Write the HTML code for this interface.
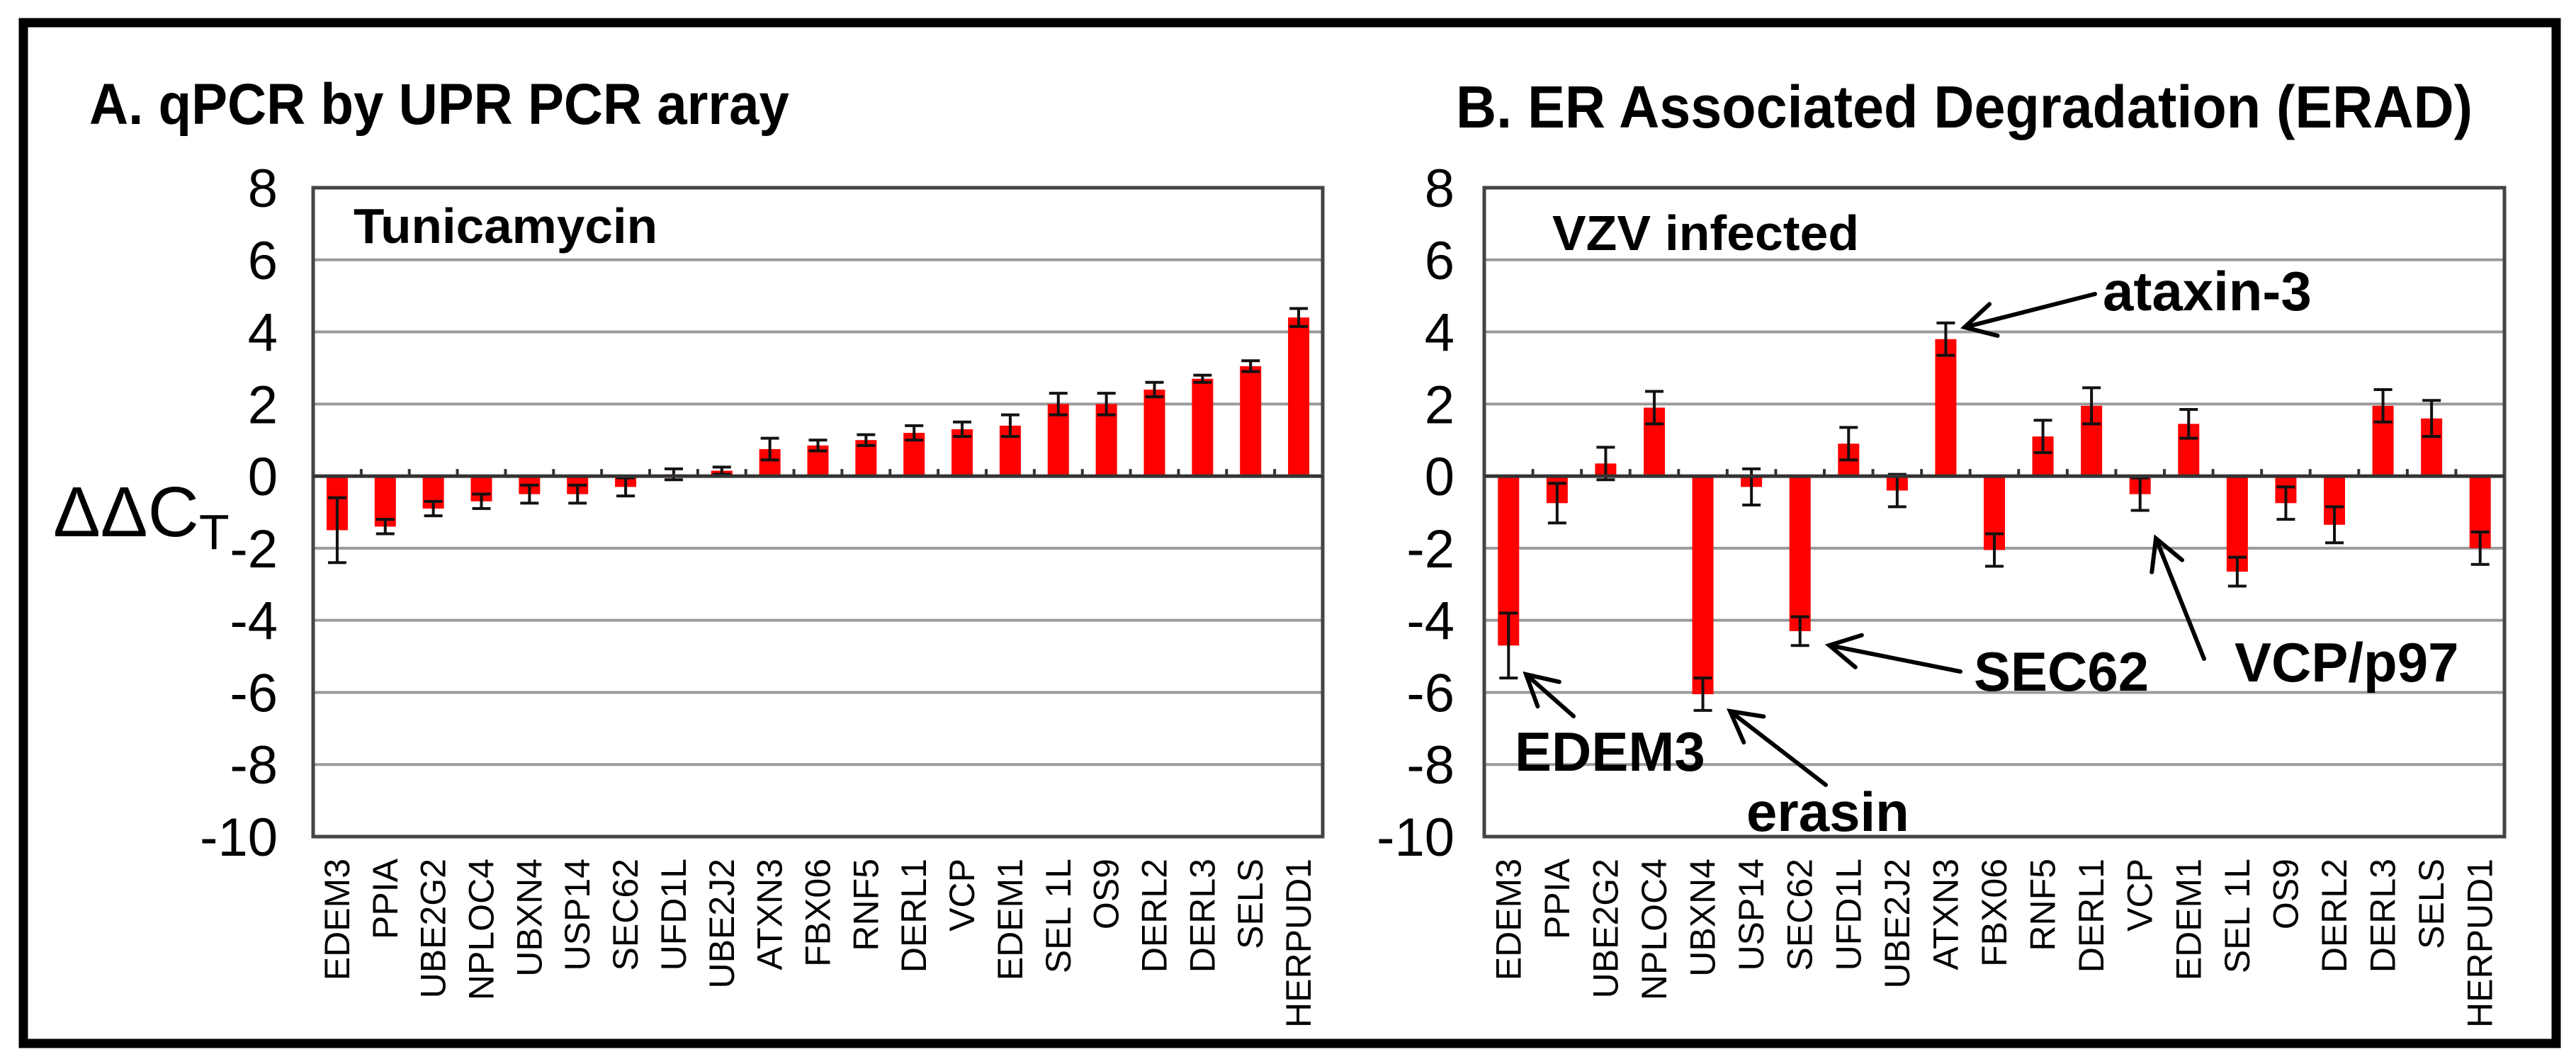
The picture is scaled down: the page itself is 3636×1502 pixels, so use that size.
<!DOCTYPE html>
<html><head><meta charset="utf-8"><style>
html,body{margin:0;padding:0;background:#fff;}
svg{display:block;}
text{font-family:"Liberation Sans",Arial,sans-serif;}
</style></head><body>
<svg id="fig" width="3636" height="1502" viewBox="0 0 3636 1502" xmlns="http://www.w3.org/2000/svg">
<rect x="0" y="0" width="3636" height="1502" fill="#fff"/>
<rect x="33" y="32" width="3575" height="1441" fill="none" stroke="#000" stroke-width="13"/>
<text x="126" y="175" font-size="82" font-weight="bold" textLength="988" lengthAdjust="spacingAndGlyphs">A. qPCR by UPR PCR array</text>
<text x="2055" y="180" font-size="84" font-weight="bold" textLength="1435" lengthAdjust="spacingAndGlyphs">B.  ER Associated Degradation (ERAD)</text>
<text x="75" y="757" font-size="100">ΔΔC<tspan font-size="70" dy="18">T</tspan></text>
<g id="chartA"></g>
<g id="chartB"></g>
<text x="499" y="343" font-size="70" font-weight="bold" textLength="429" lengthAdjust="spacingAndGlyphs">Tunicamycin</text>
<text x="2191" y="353" font-size="70" font-weight="bold" textLength="433" lengthAdjust="spacingAndGlyphs">VZV infected</text>
<g id="annot" fill="none" stroke="#000" stroke-width="6" stroke-linecap="round"></g>
</svg>
<script>
const NS="http://www.w3.org/2000/svg";
const categories=["EDEM3","PPIA","UBE2G2","NPLOC4","UBXN4","USP14","SEC62","UFD1L","UBE2J2","ATXN3","FBX06","RNF5","DERL1","VCP","EDEM1","SEL 1L","OS9","DERL2","DERL3","SELS","HERPUD1"];
const categoriesA=["EDEM3","PPIA","UBE2G2","NPLOC4","UBXN4","USP14","SEC62","UFD1L","UBE2J2","ATXN3","FBX06","RNF5","DERL1","VCP","EDEM1","SEL 1L","OS9","DERL2","DERL3","SELS","HERPUD1"];
const valuesA=[-1.5,-1.4,-0.9,-0.7,-0.5,-0.5,-0.3,0.05,0.15,0.75,0.85,1.0,1.2,1.3,1.4,2.0,2.0,2.4,2.7,3.05,4.4];
const errorsA=[0.9,0.2,0.2,0.2,0.25,0.25,0.25,0.15,0.1,0.3,0.15,0.15,0.2,0.2,0.3,0.3,0.3,0.2,0.1,0.15,0.25];
const valuesB=[-4.7,-0.75,0.35,1.9,-6.05,-0.3,-4.3,0.9,-0.4,3.8,-2.05,1.1,1.95,-0.5,1.45,-2.65,-0.75,-1.35,1.95,1.6,-2.0];
const errorsB=[0.9,0.55,0.45,0.45,0.45,0.5,0.4,0.45,0.45,0.45,0.45,0.45,0.5,0.45,0.4,0.4,0.45,0.5,0.45,0.5,0.45];
const yTicks=[8,6,4,2,0,-2,-4,-6,-8,-10];

function mk(tag,attrs,parent){const e=document.createElementNS(NS,tag);for(const k in attrs)e.setAttribute(k,attrs[k]);parent.appendChild(e);return e;}

function drawChart(g,x0,x1,labelRight,cats,vals,errs,prefix){
  const top=265,bot=1181,ymin=-10,ymax=8;
  const y=v=>top+(ymax-v)/(ymax-ymin)*(bot-top);
  const band=(x1-x0)/cats.length;
  const xc=i=>x0+band*(i+0.5);
  yTicks.forEach(t=>{
    if(t!==8&&t!==-10&&t!==0){
      const l=mk('line',{x1:x0,x2:x1,y1:y(t),y2:y(t),stroke:'#9a9a9a','stroke-width':4},g);
      
      
    }
    const tx=mk('text',{x:labelRight,y:y(t)+27,'font-size':76,'text-anchor':'end'},g);
    tx.textContent=t;
    
    
  });
  const frame=mk('rect',{x:x0,y:top,width:x1-x0,height:bot-top,fill:'none',stroke:'#444','stroke-width':5},g);
  
  
  cats.forEach((c,i)=>{
    const v=vals[i],e=errs[i],bw=30;
    const b=mk('rect',{x:xc(i)-bw/2,y:Math.min(y(v),y(0)),width:bw,height:Math.abs(y(v)-y(0)),fill:'#ff0000'},g);
    
    
    const eg=mk('g',{stroke:'#111','stroke-width':4},g);
    
    
    mk('line',{x1:xc(i),x2:xc(i),y1:y(v+e),y2:y(v-e)},eg);
    mk('line',{x1:xc(i)-13,x2:xc(i)+13,y1:y(v+e),y2:y(v+e)},eg);
    mk('line',{x1:xc(i)-13,x2:xc(i)+13,y1:y(v-e),y2:y(v-e)},eg);
    if(i>0){mk('line',{x1:x0+band*i,x2:x0+band*i,y1:y(0),y2:y(0)-10,stroke:'#333','stroke-width':4},g);}
    const lb=mk('text',{x:0,y:0,'font-size':50,'text-anchor':'end',transform:`translate(${xc(i)+17},1212) rotate(-90)`},g);
    lb.textContent=c;
    
    
  });
  const z=mk('line',{x1:x0,x2:x1,y1:y(0),y2:y(0),stroke:'#333','stroke-width':5},g);
  
  
}
drawChart(document.getElementById('chartA'),442,1867,392,categoriesA,valuesA,errorsA,'a');
drawChart(document.getElementById('chartB'),2095,3535,2053,categories,valuesB,errorsB,'b');

const an=document.getElementById('annot');
function arrow(x1,y1,x2,y2,name){
  const g=mk('g',{},an);
  
  
  mk('line',{x1:x1,y1:y1,x2:x2,y2:y2},g);
  const a=Math.atan2(y1-y2,x1-x2),L=48,s=0.5;
  mk('polyline',{points:`${x2+L*Math.cos(a+s)},${y2+L*Math.sin(a+s)} ${x2},${y2} ${x2+L*Math.cos(a-s)},${y2+L*Math.sin(a-s)}`},g);
}
function label(x,y,t,name){
  const tx=mk('text',{x:x,y:y,'font-size':78,'font-weight':'bold',fill:'#000',stroke:'none'},document.getElementById('fig'));
  tx.textContent=t;
  
  
}
arrow(2957,415,2773,462,'ataxin3-arrow');
arrow(2767,948,2582,911,'sec62-arrow');
arrow(3111,930,3043,760,'vcp-arrow');
arrow(2221,1011,2154,952,'edem3-arrow');
arrow(2577,1108,2442,1004,'erasin-arrow');
label(2968,438,'ataxin-3','ataxin3-label');
label(2786,975,'SEC62','sec62-label');
label(3154,962,'VCP/p97','vcp-label');
label(2138,1088,'EDEM3','edem3-label');
label(2465,1173,'erasin','erasin-label');
</script>
</body></html>
